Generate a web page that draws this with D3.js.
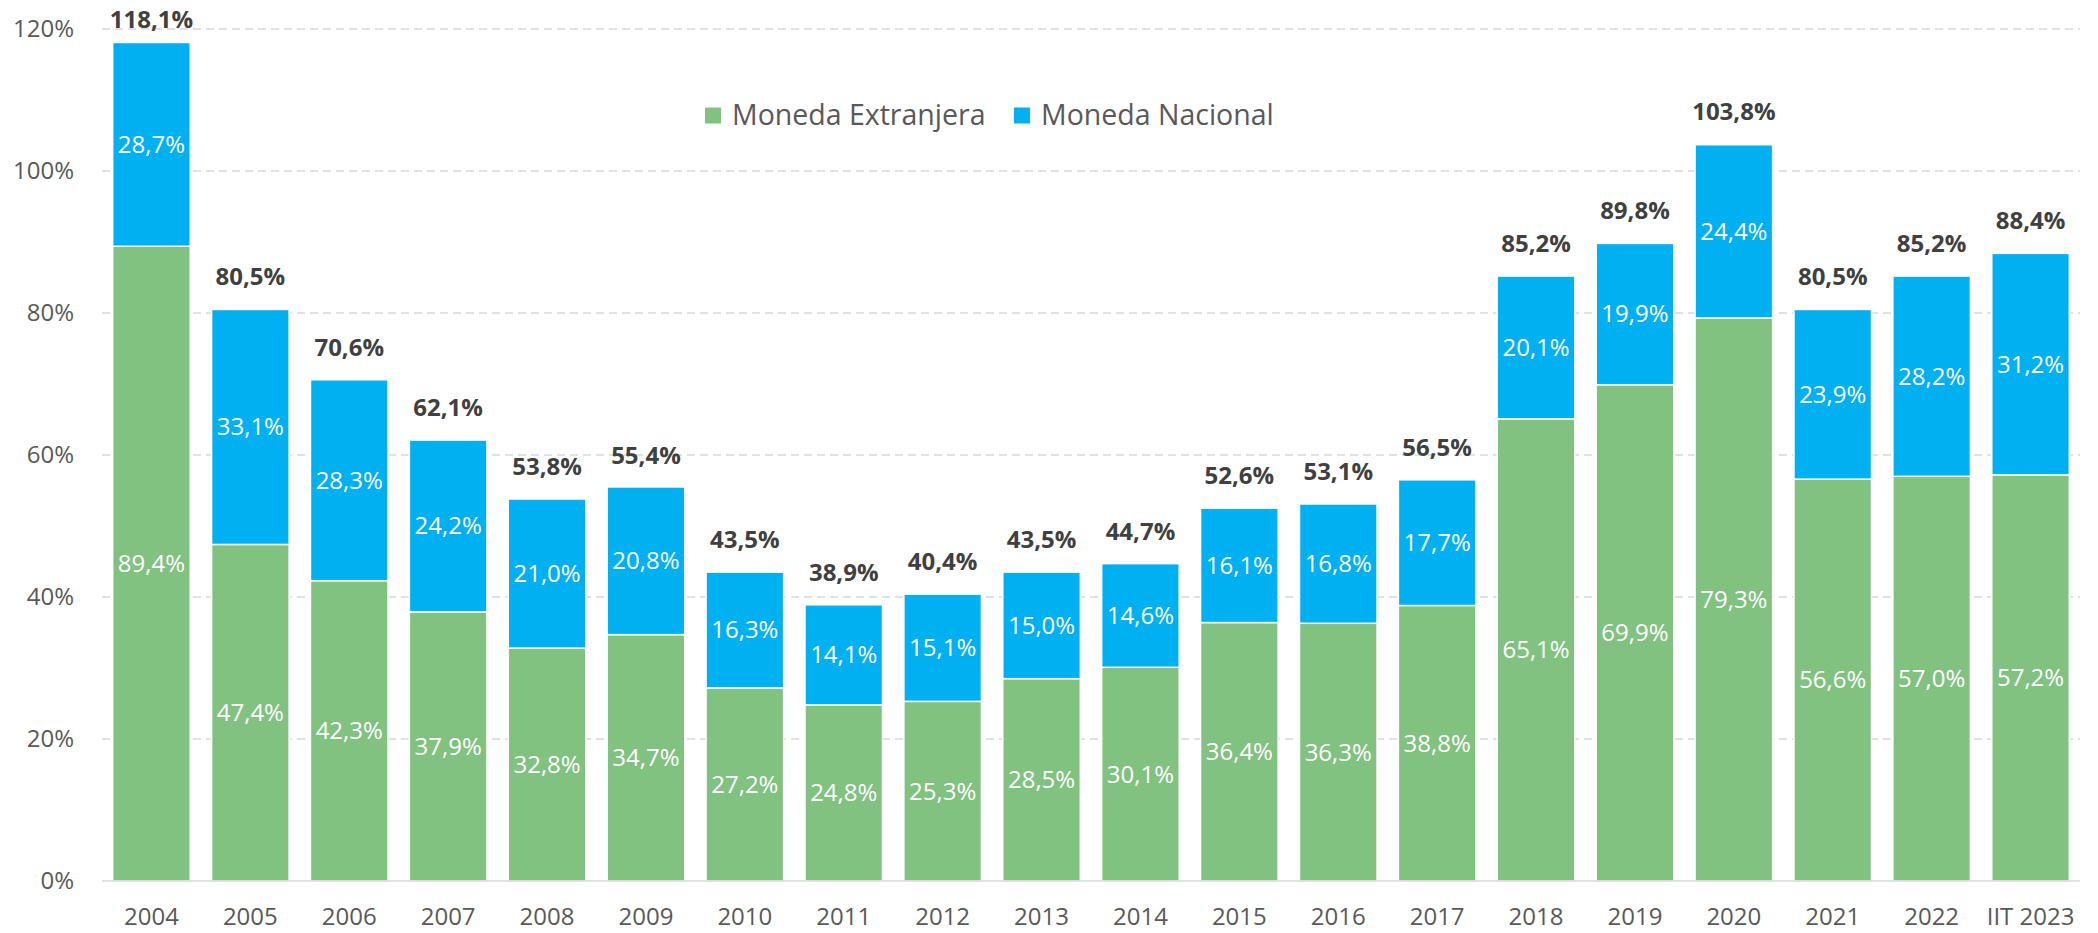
<!DOCTYPE html>
<html>
<head>
<meta charset="utf-8">
<script src="https://cdn.jsdelivr.net/npm/d3@7"></script>
<style>
  body { margin: 0; background: #fff; }
  text { font-family: 'Open Sans', sans-serif; }
</style>
</head>
<body>
<script>
var width = 2098,
  height = 933,
  margin = {top: 29, right: 18, bottom: 52, left: 102}

var years = ['2004', '2005', '2006', '2007', '2008', '2009', '2010', '2011', '2012', '2013',
  '2014', '2015', '2016', '2017', '2018', '2019', '2020', '2021', '2022', 'IIT 2023']
var extranjera = [89.4, 47.4, 42.3, 37.9, 32.8, 34.7, 27.2, 24.8, 25.3, 28.5,
  30.1, 36.4, 36.3, 38.8, 65.1, 69.9, 79.3, 56.6, 57.0, 57.2]
var nacional = [28.7, 33.1, 28.3, 24.2, 21.0, 20.8, 16.3, 14.1, 15.1, 15.0,
  14.6, 16.1, 16.8, 17.7, 20.1, 19.9, 24.4, 23.9, 28.2, 31.2]
var totals = [118.1, 80.5, 70.6, 62.1, 53.8, 55.4, 43.5, 38.9, 40.4, 43.5,
  44.7, 52.6, 53.1, 56.5, 85.2, 89.8, 103.8, 80.5, 85.2, 88.4]
var yTicks = [0, 20, 40, 60, 80, 100, 120]
var seriesNames = ['Moneda Extranjera', 'Moneda Nacional']
var colors = ['#81c281', '#00b0f0']

var fmt = function (v) { return v.toFixed(1).replace('.', ',') + '%' }

var svg = d3.select('body').append('svg')
  .attr('width', width)
  .attr('height', height)

var x = d3.scaleBand()
  .domain(years)
  .range([margin.left, width - margin.right])
  .paddingInner(0.216)
  .paddingOuter(0.108)

var y = d3.scaleLinear()
  .domain([0, 120])
  .range([height - margin.bottom, margin.top])

// gridlines
svg.append('g')
  .selectAll('line')
  .data(yTicks.filter(function (d) { return d > 0 }))
  .enter().append('line')
  .attr('x1', margin.left)
  .attr('x2', width - margin.right)
  .attr('y1', function (d) { return y(d) })
  .attr('y2', function (d) { return y(d) })
  .attr('stroke', '#d9d9d9')
  .attr('stroke-width', 1.5)
  .attr('stroke-dasharray', '8,5')

// y axis labels
var yAxis = svg.append('g')
  .attr('transform', 'translate(' + (margin.left - 28) + ',0)')
  .call(d3.axisLeft(y).tickValues(yTicks).tickSize(0).tickPadding(0)
    .tickFormat(function (d) { return d + '%' }))
yAxis.select('.domain').remove()
yAxis.selectAll('text')
  .attr('font-size', 24)
  .attr('fill', '#595959')
  .style('font-family', "'Open Sans', sans-serif")

// stacked data
var rows = years.map(function (yr, i) {
  return {year: yr, me: extranjera[i], mn: nacional[i], total: totals[i]}
})
var stack = d3.stack().keys(['me', 'mn'])(rows)

var layer = svg.selectAll('.layer')
  .data(stack)
  .enter().append('g')
  .attr('class', 'layer')
  .attr('fill', function (d, i) { return colors[i] })

layer.selectAll('rect')
  .data(function (d) { return d })
  .enter().append('rect')
  .attr('x', function (d) { return x(d.data.year) })
  .attr('width', x.bandwidth())
  .attr('y', function (d) { return y(d[1]) })
  .attr('height', function (d) { return y(d[0]) - y(d[1]) })
  .attr('stroke', '#fff')
  .attr('stroke-width', 1.5)

layer.selectAll('text')
  .data(function (d) { return d })
  .enter().append('text')
  .attr('x', function (d) { return x(d.data.year) + x.bandwidth() / 2 })
  .attr('y', function (d) { return y((d[0] + d[1]) / 2) })
  .attr('dy', '.35em')
  .attr('text-anchor', 'middle')
  .attr('font-size', 24)
  .attr('fill', '#fff')
  .text(function (d) { return fmt(d[1] - d[0]) })

// baseline
svg.append('line')
  .attr('x1', margin.left)
  .attr('x2', width - margin.right)
  .attr('y1', y(0))
  .attr('y2', y(0))
  .attr('stroke', '#d9d9d9')
  .attr('stroke-width', 1.5)

// totals
svg.append('g')
  .selectAll('text')
  .data(rows)
  .enter().append('text')
  .attr('x', function (d) { return x(d.year) + x.bandwidth() / 2 })
  .attr('y', function (d) { return Math.max(y(d.total) - 24, 28) })
  .attr('text-anchor', 'middle')
  .attr('font-size', 24)
  .attr('font-weight', 'bold')
  .attr('fill', '#404040')
  .text(function (d) { return fmt(d.total) })

// x labels
svg.append('g')
  .selectAll('text')
  .data(years)
  .enter().append('text')
  .attr('x', function (d) { return x(d) + x.bandwidth() / 2 })
  .attr('y', 925)
  .attr('text-anchor', 'middle')
  .attr('font-size', 24)
  .attr('fill', '#595959')
  .text(function (d) { return d })

// legend
var legendX = [705, 1014]
var legend = svg.append('g')
  .selectAll('g')
  .data(seriesNames)
  .enter().append('g')
  .attr('transform', function (d, i) { return 'translate(' + legendX[i] + ',107.5)' })

legend.append('rect')
  .attr('width', 16)
  .attr('height', 16)
  .attr('fill', function (d, i) { return colors[i] })

legend.append('text')
  .attr('x', 27)
  .attr('y', 8)
  .attr('dy', '.35em')
  .attr('font-size', 28.5)
  .attr('fill', '#595959')
  .text(function (d) { return d })
</script>
</body>
</html>
